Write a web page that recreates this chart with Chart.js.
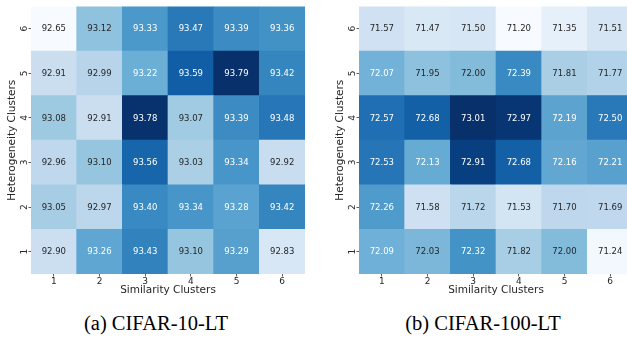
<!DOCTYPE html>
<html>
<head>
<meta charset="utf-8">
<script src="https://cdn.jsdelivr.net/npm/chart.js@4.4.1/dist/chart.umd.min.js"></script>
<style>
html, body { margin: 0; padding: 0; background: #fff; }
#wrap { position: relative; width: 627px; height: 341px; overflow: hidden; }
canvas { position: absolute; top: 0; }
.cap { position: absolute; top: 312px; width: 220px; text-align: center; color: #000;
       font-family: "Liberation Serif", "DejaVu Serif", serif; font-size: 20.5px; line-height: 22px; }
</style>
</head>
<body>
<div id="wrap">
  <canvas id="c10" width="310" height="300" style="left:0"></canvas>
  <canvas id="c100" width="305" height="300" style="left:328px"></canvas>
  <div class="cap" style="left:46px">(a) CIFAR-10-LT</div>
  <div class="cap" style="left:373px">(b) CIFAR-100-LT</div>
</div>
<script>
// Axis categories
const simClusters = ['1', '2', '3', '4', '5', '6'];
const hetClusters = [1, 2, 3, 4, 5, 6];

// CIFAR-10-LT accuracy, one row per heterogeneity cluster (1..6)
const cifar10Rows = [
    [92.90, 93.26, 93.43, 93.10, 93.29, 92.83],
    [93.05, 92.97, 93.40, 93.34, 93.28, 93.42],
    [92.96, 93.10, 93.56, 93.03, 93.34, 92.92],
    [93.08, 92.91, 93.78, 93.07, 93.39, 93.48],
    [92.91, 92.99, 93.22, 93.59, 93.79, 93.42],
    [92.65, 93.12, 93.33, 93.47, 93.39, 93.36]
];

// CIFAR-100-LT accuracy
const cifar100Rows = [
    [72.09, 72.03, 72.32, 71.82, 72.00, 71.24],
    [72.26, 71.58, 71.72, 71.53, 71.70, 71.69],
    [72.53, 72.13, 72.91, 72.68, 72.16, 72.21],
    [72.57, 72.68, 73.01, 72.97, 72.19, 72.50],
    [72.07, 71.95, 72.00, 72.39, 71.81, 71.77],
    [71.57, 71.47, 71.50, 71.20, 71.35, 71.51]
];

const FONT = 'DejaVu Sans';
const TEXT = '#262626';

// matplotlib "Blues" colour stops
const bluesStops = ['#f7fbff', '#deebf7', '#c6dbef', '#9ecae1', '#6baed6', '#4292c6', '#2171b5', '#08519c', '#08306b']
    .map(h => [1, 3, 5].map(i => parseInt(h.substr(i, 2), 16)));

function blues(t) {
    t = Math.max(0, Math.min(1, t));
    const pos = t * (bluesStops.length - 1);
    const i = Math.min(Math.floor(pos), bluesStops.length - 2);
    const f = pos - i;
    return bluesStops[i].map((c, k) => Math.round(c + (bluesStops[i + 1][k] - c) * f));
}

function luminance(rgb) {
    const lin = rgb.map(c => {
        c = c / 255;
        return c <= 0.03928 ? c / 12.92 : Math.pow((c + 0.055) / 1.055, 2.4);
    });
    return 0.2126 * lin[0] + 0.7152 * lin[1] + 0.0722 * lin[2];
}

// Write the value in each cell
const cellLabels = {
    id: 'cellLabels',
    afterDatasetsDraw(chart) {
        const ctx = chart.ctx;
        ctx.save();
        ctx.font = '8.5px "' + FONT + '"';
        ctx.textAlign = 'center';
        ctx.textBaseline = 'middle';
        chart.data.datasets.forEach((ds, i) => {
            chart.getDatasetMeta(i).data.forEach((bar, j) => {
                ctx.fillStyle = ds.textColors[j];
                ctx.fillText(ds.values[j].toFixed(2), bar.x, (bar.y + bar.base) / 2 + 0.5);
            });
        });
        ctx.restore();
    }
};

function makeHeatmap(id, rows, padRight) {
    const all = rows.flat();
    const vmin = Math.min(...all);
    const vmax = Math.max(...all);

    const datasets = hetClusters.map((h, i) => {
        const rgbs = rows[i].map(v => blues((v - vmin) / (vmax - vmin)));
        return {
            label: 'Heterogeneity ' + h,
            data: simClusters.map(() => [h - 0.5, h + 0.5]),
            values: rows[i],
            backgroundColor: rgbs.map(c => `rgb(${c[0]},${c[1]},${c[2]})`),
            textColors: rgbs.map(c => luminance(c) > 0.408 ? TEXT : '#ffffff'),
            borderWidth: 0,
            barPercentage: 1,
            categoryPercentage: 1,
            grouped: false
        };
    });

    const tickGrid = {
        display: true,
        offset: false,
        drawOnChartArea: false,
        drawTicks: true,
        tickLength: 2.5,
        tickColor: '#333333',
        tickWidth: 0.8
    };

    return new Chart(document.getElementById(id), {
        type: 'bar',
        data: { labels: simClusters, datasets: datasets },
        options: {
            responsive: false,
            animation: false,
            layout: { padding: { top: 0, left: 0, bottom: 0, right: padRight } },
            plugins: { legend: { display: false }, tooltip: { enabled: false } },
            scales: {
                x: {
                    type: 'category',
                    offset: true,
                    grid: tickGrid,
                    border: { display: false },
                    ticks: { color: TEXT, font: { family: FONT, size: 9 }, padding: 0, maxRotation: 0 },
                    title: {
                        display: true, text: 'Similarity Clusters', color: TEXT,
                        font: { family: FONT, size: 10.5 }, padding: { top: 0, bottom: 3 }
                    },
                    afterFit: s => { s.height = 26; }
                },
                y: {
                    type: 'linear',
                    min: 0.5,
                    max: 6.5,
                    afterBuildTicks: s => { s.ticks = hetClusters.map(v => ({ value: v })); },
                    grid: tickGrid,
                    border: { display: false },
                    ticks: {
                        color: TEXT, font: { family: FONT, size: 9 }, padding: 1,
                        minRotation: 90, maxRotation: 90, crossAlign: 'center'
                    },
                    title: {
                        display: true, text: 'Heterogeneity Clusters', color: TEXT,
                        font: { family: FONT, size: 10.5 }, padding: { top: 6, bottom: 0 }
                    },
                    afterFit: s => { s.width = 31; }
                }
            }
        },
        plugins: [cellLabels]
    });
}

makeHeatmap('c10', cifar10Rows, 5);
makeHeatmap('c100', cifar100Rows, 0);
</script>
</body>
</html>
